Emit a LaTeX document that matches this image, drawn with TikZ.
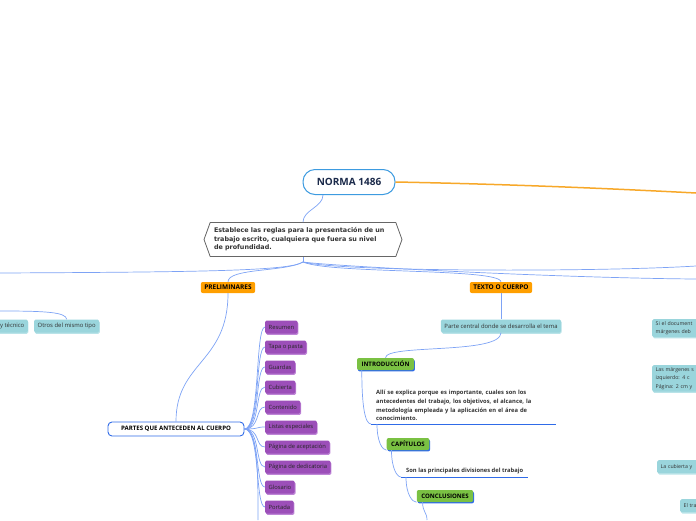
\documentclass[tikz,border=0pt]{standalone}
\usepackage{fontspec}
\setmainfont{Open Sans}
\newfontfamily\hexfont{DejaVu Sans}
\usetikzlibrary{shapes.symbols,shadows}
\definecolor{nmink}{HTML}{1B2A4A}
\definecolor{nmroot}{HTML}{3D9BE0}
\definecolor{nmlink}{HTML}{7EA3F5}
\definecolor{nmorange}{HTML}{FF9F00}
\definecolor{nmorangeline}{HTML}{F7A829}
\definecolor{nmpurple}{HTML}{9C4FB9}
\definecolor{nmpurpleedge}{HTML}{BE85D6}
\definecolor{nmteal}{HTML}{9AD5DC}
\definecolor{nmtealedge}{HTML}{B9E3E8}
\definecolor{nmgreen}{HTML}{7AC143}
\definecolor{nmblue}{HTML}{2F6BE8}
\definecolor{nmgray}{HTML}{666666}
\definecolor{nmtext}{HTML}{333333}
\tikzset{
  nmrootbox/.style={
    draw=nmroot,
    fill=white,
    line width=1pt,
    rounded corners=12pt,
    minimum width=92pt,
    minimum height=25pt,
    font=\fontsize{10}{12}\selectfont\bfseries,
    text=nmink
  },
  nmhex/.style={
    signal,
    signal to=west and east,
    signal pointer angle=140,
    draw=nmgray,
    fill=white,
    line width=0.8pt,
    minimum width=198pt,
    minimum height=34pt,
    text width=178pt,
    align=left,
    inner xsep=2pt,
    font=\hexfont\fontsize{6.4}{8.4}\selectfont\bfseries,
    text=nmtext
  },
  nmcat/.style={
    fill=nmorange,
    rounded corners=2pt,
    minimum height=11pt,
    inner xsep=3.5pt,
    inner ysep=1pt,
    font=\fontsize{6.5}{7}\selectfont\bfseries,
    text=black
  },
  nmpartes/.style={
    draw=nmblue,
    fill=white,
    line width=0.9pt,
    rounded corners=4pt,
    minimum width=136pt,
    minimum height=14pt,
    inner sep=1pt,
    font=\fontsize{6.1}{7}\selectfont\bfseries,
    text=black
  },
  nmleaf/.style={
    fill=nmpurple,
    rounded corners=1.5pt,
    minimum height=13pt,
    inner xsep=3.5pt,
    inner ysep=1pt,
    general shadow={fill=nmpurpleedge, shadow yshift=-1.4pt, shadow xshift=0.8pt},
    font=\fontsize{5.8}{7}\selectfont,
    text=black!85
  },
  nmnote/.style={
    fill=nmteal,
    rounded corners=1.5pt,
    minimum height=13pt,
    inner xsep=3.5pt,
    inner ysep=2pt,
    align=left,
    general shadow={fill=nmtealedge, shadow yshift=-1.3pt, shadow xshift=0.6pt},
    font=\fontsize{5.9}{8.6}\selectfont,
    text=nmtext
  },
  nmedgenote/.style={
    nmnote,
    anchor=north west,
    font=\fontsize{5.2}{8.6}\selectfont
  },
  nmsub/.style={
    fill=nmgreen,
    rounded corners=2pt,
    minimum height=12pt,
    inner xsep=4.5pt,
    inner ysep=1pt,
    general shadow={fill=nmblue, shadow yshift=-1.4pt, shadow xshift=0.8pt},
    font=\fontsize{6.1}{7}\selectfont\bfseries,
    text=black
  },
  nmplain/.style={
    inner xsep=5pt,
    inner ysep=3pt,
    align=left,
    font=\fontsize{5.8}{8.7}\selectfont\bfseries,
    text=nmtext
  },
  nmedge/.style={
    draw=nmlink,
    line width=0.7pt
  },
  nmorangeedge/.style={
    draw=nmorangeline,
    line width=1.5pt
  },
  nmunder/.style={
    draw=nmblue,
    line width=1pt
  }
}

\begin{document}
\begin{tikzpicture}[x=1pt,y=-1pt]
  \useasboundingbox (0,0) rectangle (696,520);
  \clip (0,0) rectangle (696,520);

  \node[nmrootbox] (root) at (349,182) {NORMA 1486};

  \node[nmhex] (hex) at (303,239.5) {Establece las reglas para la presentación de un\\
    trabajo escrito, cualquiera que fuera su nivel\\
    de profundidad.};

  \node[nmcat] (prelim) at (228,287.5) {PRELIMINARES};
  \node[nmcat] (texto) at (501,287.5) {TEXTO O CUERPO};

  % lado izquierdo, cortado
  \node[nmnote, anchor=east] (ytecnico) at (28,326) {y técnico};
  \node[nmnote, anchor=west] (otros) at (34,326) {Otros del mismo tipo};

  % partes que anteceden al cuerpo
  \node[nmpartes] (partes) at (176,429) {PARTES QUE ANTECEDEN AL CUERPO};

  \node[nmleaf, anchor=west] (resumen) at (265,327) {Resumen};
  \node[nmleaf, anchor=west] (tapa) at (265,347) {Tapa o pasta};
  \node[nmleaf, anchor=west] (guardas) at (265,367) {Guardas};
  \node[nmleaf, anchor=west] (cubierta) at (265,387) {Cubierta};
  \node[nmleaf, anchor=west] (contenido) at (265,407) {Contenido};
  \node[nmleaf, anchor=west] (listas) at (265,427) {Listas especiales};
  \node[nmleaf, anchor=west] (aceptacion) at (265,447) {Página de aceptación};
  \node[nmleaf, anchor=west] (dedicatoria) at (265,467) {Página de dedicatoria};
  \node[nmleaf, anchor=west] (glosario) at (265,487) {Glosario};
  \node[nmleaf, anchor=west] (portada) at (265,507) {Portada};

  % texto o cuerpo
  \node[nmnote] (parte) at (501,326) {Parte central donde se desarrolla el tema};
  \node[nmsub] (intro) at (385.5,364) {INTRODUCCIÓN};
  \node[nmplain, text width=175pt, anchor=south west] (alli) at (371,424) {Allí se explica porque es importante, cuales son los\\
    antecedentes del trabajo, los objetivos, el alcance, la\\
    metodología empleada y la aplicación en el área de\\
    conocimiento.};
  \node[nmsub] (cap) at (408,444) {CAPÍTULOS};
  \node[nmplain, anchor=south west] (son) at (401,477) {Son las principales divisiones del trabajo};
  \node[nmsub] (concl) at (445,496) {CONCLUSIONES};

  % lado derecho, cortado
  \node[nmedgenote, text width=50pt] (simargen) at (652,319) {Si el document\\márgenes deb};
  \node[nmedgenote, text width=50pt] (lasmargen) at (652,365) {Las márgenes s\\izquierdo: 4 c\\Página: 2 cm y};
  \node[nmedgenote, text width=45pt] (lacubierta) at (657,460) {La cubierta y};
  \node[nmedgenote, text width=30pt] (eltrabajo) at (680,499) {El tra};

  \coordinate (hub) at (303,262);
  \coordinate (leftend) at (0,273);
  \coordinate (rightend) at (696,266);
  \coordinate (rightendb) at (696,279);
  \coordinate (otrosin) at (0,311);
  \coordinate (rootright) at (696,193);
  \coordinate (partesend) at (258,520);
  \coordinate (conclend) at (427,520);

  \draw[nmorangeedge] (root.east) .. controls (500,184) and (600,188) .. (rootright);
  \draw[nmedge] ([xshift=-26pt]root.south) .. controls +(0,12) and +(0,-12) .. (hex.north);
  \draw[nmedge] (hex.south) -- (hub);
  \draw[nmedge] (hub) .. controls (290,271) and (200,272) .. (leftend);
  \draw[nmedge] (hub) .. controls (285,272) and (228,268) .. (prelim.north);
  \draw[nmedge] (hub) .. controls (330,274) and (500,268) .. (texto.north);
  \draw[nmedge] (hub) .. controls (340,272) and (600,272) .. (rightend);
  \draw[nmedge] (hub) .. controls (330,266) and (560,278) .. (rightendb);
  \draw[nmedge] (otrosin) .. controls (45,311) and (66,312) .. (otros.north);

  \draw[nmedge] (prelim.south) .. controls +(0,70) and +(0,-60) .. (partes.north);
  \draw[nmedge] (partes.east) .. controls +(16,0) and +(-10,0) .. (resumen.west);
  \draw[nmedge] (partes.east) .. controls +(16,0) and +(-10,0) .. (tapa.west);
  \draw[nmedge] (partes.east) .. controls +(16,0) and +(-10,0) .. (guardas.west);
  \draw[nmedge] (partes.east) .. controls +(16,0) and +(-10,0) .. (cubierta.west);
  \draw[nmedge] (partes.east) .. controls +(16,0) and +(-10,0) .. (contenido.west);
  \draw[nmedge] (partes.east) .. controls +(16,0) and +(-10,0) .. (listas.west);
  \draw[nmedge] (partes.east) .. controls +(16,0) and +(-10,0) .. (aceptacion.west);
  \draw[nmedge] (partes.east) .. controls +(16,0) and +(-10,0) .. (dedicatoria.west);
  \draw[nmedge] (partes.east) .. controls +(16,0) and +(-10,0) .. (glosario.west);
  \draw[nmedge] (partes.east) .. controls +(16,0) and +(-10,0) .. (portada.west);
  \draw[nmedge] (partes.east) .. controls +(14,0) and +(0,-40) .. (partesend);

  \draw[nmedge] (texto.south) -- (parte.north);
  \draw[nmedge] (parte.south) .. controls +(0,22) and +(0,-14) .. (intro.north);
  \draw[nmedge] ([xshift=5pt]intro.south west) .. controls +(0,36) and +(-6,0) .. (alli.south west);
  \draw[nmunder] (alli.south west) -- (alli.south east);
  \draw[nmedge] ([xshift=6pt]alli.south west) .. controls +(0,18) and +(-4,0) .. (cap.south west);
  \draw[nmedge] ([xshift=5pt]cap.south west) .. controls +(0,18) and +(-4,0) .. (son.south west);
  \draw[nmunder] (son.south west) -- (son.south east);
  \draw[nmedge] ([xshift=5pt]son.south west) .. controls +(0,18) and +(-4,0) .. (concl.south west);
  \draw[nmedge] ([xshift=6pt]concl.south west) .. controls +(0,10) and +(0,-8) .. (conclend);
\end{tikzpicture}
\end{document}
